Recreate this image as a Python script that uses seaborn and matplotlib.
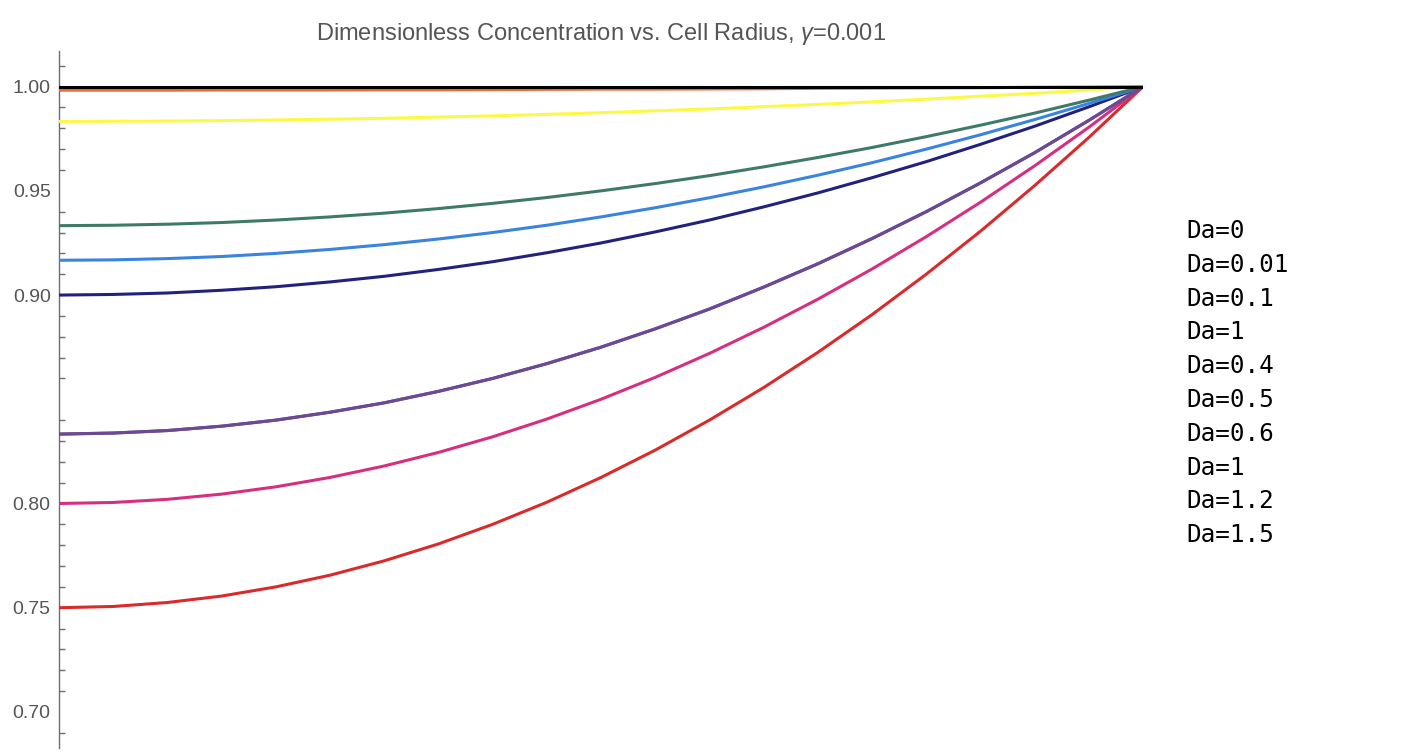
import numpy as np
import pandas as pd
import seaborn as sns
import matplotlib
matplotlib.use("Agg")
import matplotlib.pyplot as plt
from matplotlib.ticker import MultipleLocator, FixedLocator

# radius samples
r = [0.00, 0.05, 0.10, 0.15, 0.20, 0.25, 0.30, 0.35, 0.40, 0.45, 0.50,
     0.55, 0.60, 0.65, 0.70, 0.75, 0.80, 0.85, 0.90, 0.95, 1.00]

labels = ["Da=0", "Da=0.01", "Da=0.1", "Da=1", "Da=0.4", "Da=0.5",
          "Da=0.6", "Da=1", "Da=1.2", "Da=1.5"]

c_da0 = [1.0, 1.0, 1.0, 1.0, 1.0, 1.0, 1.0, 1.0, 1.0, 1.0, 1.0,
         1.0, 1.0, 1.0, 1.0, 1.0, 1.0, 1.0, 1.0, 1.0, 1.0]
c_da001 = [0.9983, 0.9983, 0.9983, 0.9984, 0.9984, 0.9984, 0.9985, 0.9985, 0.9986, 0.9987, 0.9988,
           0.9988, 0.9989, 0.9990, 0.9992, 0.9993, 0.9994, 0.9995, 0.9997, 0.9998, 1.0]
c_da01 = [0.9833, 0.9834, 0.9835, 0.9837, 0.9840, 0.9844, 0.9848, 0.9854, 0.9860, 0.9867, 0.9875,
          0.9884, 0.9893, 0.9904, 0.9915, 0.9927, 0.9940, 0.9954, 0.9968, 0.9984, 1.0]
c_da1a = [0.8333, 0.8338, 0.8350, 0.8371, 0.8400, 0.8438, 0.8483, 0.8538, 0.8600, 0.8671, 0.8750,
          0.8838, 0.8933, 0.9038, 0.9150, 0.9271, 0.9400, 0.9538, 0.9683, 0.9838, 1.0]
c_da04 = [0.9333, 0.9335, 0.9340, 0.9348, 0.9360, 0.9375, 0.9393, 0.9415, 0.9440, 0.9468, 0.9500,
          0.9535, 0.9573, 0.9615, 0.9660, 0.9708, 0.9760, 0.9815, 0.9873, 0.9935, 1.0]
c_da05 = [0.9167, 0.9169, 0.9175, 0.9185, 0.9200, 0.9219, 0.9242, 0.9269, 0.9300, 0.9335, 0.9375,
          0.9419, 0.9467, 0.9519, 0.9575, 0.9635, 0.9700, 0.9769, 0.9842, 0.9919, 1.0]
c_da06 = [0.9000, 0.9003, 0.9010, 0.9023, 0.9040, 0.9063, 0.9090, 0.9123, 0.9160, 0.9203, 0.9250,
          0.9303, 0.9360, 0.9423, 0.9490, 0.9563, 0.9640, 0.9723, 0.9810, 0.9903, 1.0]
c_da1 = [0.8333, 0.8338, 0.8350, 0.8371, 0.8400, 0.8438, 0.8483, 0.8538, 0.8600, 0.8671, 0.8750,
         0.8838, 0.8933, 0.9038, 0.9150, 0.9271, 0.9400, 0.9538, 0.9683, 0.9838, 1.0]
c_da12 = [0.8000, 0.8005, 0.8020, 0.8045, 0.8080, 0.8125, 0.8180, 0.8245, 0.8320, 0.8405, 0.8500,
          0.8605, 0.8720, 0.8845, 0.8980, 0.9125, 0.9280, 0.9445, 0.9620, 0.9805, 1.0]
c_da15 = [0.7500, 0.7506, 0.7525, 0.7556, 0.7600, 0.7656, 0.7725, 0.7806, 0.7900, 0.8006, 0.8125,
          0.8256, 0.8400, 0.8556, 0.8725, 0.8906, 0.9100, 0.9306, 0.9525, 0.9756, 1.0]

series = [c_da0, c_da001, c_da01, c_da1a, c_da04, c_da05, c_da06, c_da1, c_da12, c_da15]
colors = ["#000000", "#EF6A2E", "#FCF945", "#6B4A93", "#3F7A68", "#3A84E0",
          "#22227E", "#6B4A93", "#D62F80", "#D92B2B"]

yticks = [0.70, 0.75, 0.80, 0.85, 0.90, 0.95, 1.00]
ytick_labels = ["0.70", "0.75", "0.80", "", "0.90", "0.95", "1.00"]

sns.set_style("white")
plt.rcParams["font.family"] = ["Liberation Sans", "DejaVu Sans"]
plt.rcParams["mathtext.fontset"] = "custom"
plt.rcParams["mathtext.rm"] = "Liberation Sans"
plt.rcParams["mathtext.it"] = "Liberation Sans:italic"

fig = plt.figure(figsize=(14.04, 7.56), dpi=100)
ax = fig.add_axes([59 / 1404, 8 / 756, (1143 - 59) / 1404, (748 - 51) / 756])

# draw the bottom curves first so the top ones sit above
draw_order = [9, 8, 3, 7, 6, 5, 4, 2, 1, 0]
for i in draw_order:
    sns.lineplot(x=r, y=series[i], color=colors[i], linewidth=2.2, ax=ax,
                 legend=False, zorder=3 + (10 - i))

ax.set_xlim(0, 1)
ax.set_ylim(0.6827, 1.0171)

for s in ["top", "right", "bottom"]:
    ax.spines[s].set_visible(False)
ax.spines["left"].set_color("#6d6d6d")
ax.spines["left"].set_linewidth(1.0)

ax.set_xticks([])
ax.yaxis.set_major_locator(FixedLocator(yticks))
ax.set_yticklabels(ytick_labels)
ax.yaxis.set_minor_locator(MultipleLocator(0.01))
ax.tick_params(axis="y", which="major", direction="in", length=7, width=1,
               color="#6d6d6d", labelsize=14, labelcolor="#555555", pad=6)
ax.tick_params(axis="y", which="minor", direction="in", length=4, width=1,
               color="#6d6d6d", left=True)

ax.set_title(r"Dimensionless Concentration vs. Cell Radius, $\gamma$=0.001",
             fontsize=17, color="#555555", pad=8)

# legend: text only, monospace
for k, lab in enumerate(labels):
    fig.text(1186 / 1404, 1 - (231 + 33.8 * k) / 756, lab,
             family="DejaVu Sans Mono", fontsize=17.5, color="black",
             va="center", ha="left")

fig.savefig("out.png", dpi=100)
